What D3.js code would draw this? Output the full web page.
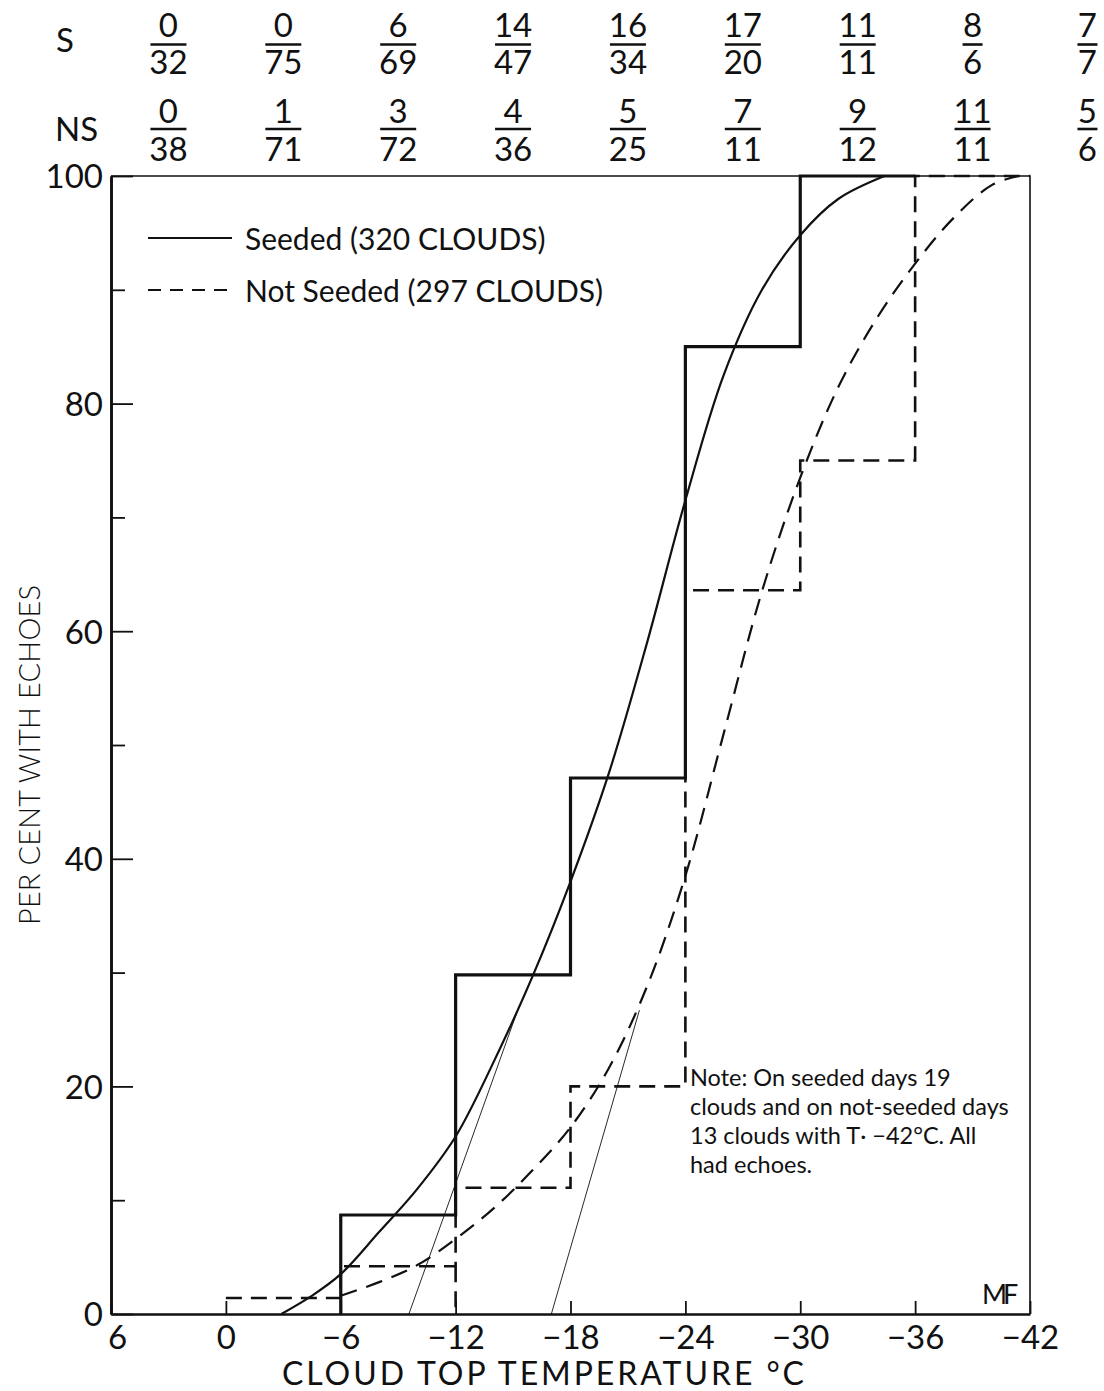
<!DOCTYPE html>
<html><head><meta charset="utf-8">
<script src="https://cdn.jsdelivr.net/npm/d3@7"></script>
<style>
body{margin:0;background:#fff}
text{font-family:Lato,'Open Sans',sans-serif;fill:#111}
</style>
</head><body>
<svg id="c" width="1104" height="1391"></svg>
<script>
// ---------- data ----------
const tempTicks = [6, 0, -6, -12, -18, -24, -30, -36, -42];
const tempTickLabels = ["6", "0", "−6", "−12", "−18", "−24", "−30", "−36", "−42"];
const pctMajor = [0, 20, 40, 60, 80, 100];
const pctMinor = [10, 30, 50, 70, 90];

const columnTemps = [3, -3, -9, -15, -21, -27, -33, -39, -45];
const seededEcho = ["0", "0", "6", "14", "16", "17", "11", "8", "7"];
const seededTotal = ["32", "75", "69", "47", "34", "20", "11", "6", "7"];
const notSeededEcho = ["0", "1", "3", "4", "5", "7", "9", "11", "5"];
const notSeededTotal = ["38", "71", "72", "36", "25", "11", "12", "11", "6"];

// step histograms (temperature, percent) — drawn with step-after
const seededStepT = [-6, -6, -12, -18, -24, -30, -36];
const seededStepPct = [0, 8.7, 29.8, 47.1, 85, 100, 100];
const notSeededStepT = [0, -6, -12, -18, -24, -30, -36, -42];
const notSeededStepPct = [1.4, 4.2, 11.1, 20, 63.6, 75, 100, 100];

// fitted smooth curves
const seededCurveT = [-2.9, -4.4, -6, -8, -10, -12, -14, -16, -18, -20, -22, -24, -26, -28, -30, -32, -34.4];
const seededCurvePct = [0, 1.5, 3.5, 7.2, 11.0, 15.6, 22.2, 29.6, 38, 47.5, 59, 71.5, 82.5, 90, 94.8, 98, 100];
const notSeededCurveT = [-6, -8, -10, -12, -14, -16, -18, -20, -22, -24, -26, -28, -30, -32, -34, -36, -38, -40, -41.4];
const notSeededCurvePct = [1.6, 2.8, 4.3, 6.6, 9.3, 12.6, 16.4, 21.6, 28.8, 38.5, 51, 63.5, 73.5, 81.5, 87.5, 92.3, 96.3, 99.2, 100];

// thin tangent lines
const tangentAT = [-9.56, -15.2];
const tangentAPct = [0, 26.5];
const tangentBT = [-17.0, -21.6];
const tangentBPct = [0, 26.7];

const seriesNames = ["Seeded (320 CLOUDS)", "Not Seeded (297 CLOUDS)"];
const noteLines = ["Note: On seeded days 19", "clouds and on not-seeded days", "13 clouds with T·  −42°C. All", "had echoes."];

// ---------- drawing ----------
const svg = d3.select("#c");
const x = d3.scaleLinear().domain([6, -42]).range([111, 1030]);
const y = d3.scaleLinear().domain([0, 100]).range([1314, 176]);
const ink = "#111";

const zip = (a, b) => a.map((v, i) => [v, b[i]]);
const line = d3.line().x(d => x(d[0])).y(d => y(d[1]));

// frame top & right (thin)
svg.append("path").attr("d", line([[6, 100], [-42, 100], [-42, 0]]))
  .attr("fill", "none").attr("stroke", ink).attr("stroke-width", 1.6);

// axes
const gLeft = svg.append("g").attr("transform", `translate(${x(6)},0)`)
  .call(d3.axisLeft(y).tickValues(pctMajor).tickSizeInner(-22).tickSizeOuter(0).tickPadding(30).tickFormat(d => d));
svg.append("g").attr("transform", `translate(${x(6)},0)`)
  .call(d3.axisLeft(y).tickValues(pctMinor).tickSizeInner(-14).tickSizeOuter(0).tickFormat(""));
const gBottom = svg.append("g").attr("transform", `translate(0,${y(0)})`)
  .call(d3.axisBottom(x).tickValues(tempTicks).tickSizeInner(-13).tickSizeOuter(0).tickPadding(12)
    .tickFormat((d, i) => tempTickLabels[i]));
svg.selectAll(".domain").attr("stroke", ink).attr("stroke-width", 2.6);
svg.selectAll(".tick line").attr("stroke", ink).attr("stroke-width", 1.8);
gLeft.selectAll("text").attr("font-size", 33).attr("fill", ink).attr("x", -8).attr("dy", "0.36em").attr("font-family", "Lato");
gBottom.selectAll("text").attr("font-size", 33).attr("fill", ink).attr("font-family", "Lato")
  .attr("dx", d => d === 6 ? 6 : 0);

// axis titles
svg.append("text").attr("x", 543).attr("y", 1385).attr("text-anchor", "middle")
  .attr("font-size", 32).attr("font-weight", 400).attr("textLength", 522)
  .text("CLOUD TOP TEMPERATURE °C");
svg.append("text").attr("transform", "translate(40,755) rotate(-90)").attr("text-anchor", "middle")
  .attr("font-size", 29).attr("font-weight", 300).attr("textLength", 340)
  .text("PER CENT WITH ECHOES");

// header fractions
function fractionRow(nums, dens, numBase, barY, denBase, label, labelX, labelBase) {
  svg.append("text").attr("x", labelX).attr("y", labelBase).attr("font-size", 33).text(label);
  columnTemps.forEach((t, i) => {
    const cx = x(t);
    svg.append("text").attr("x", cx).attr("y", numBase).attr("text-anchor", "middle").attr("font-size", 33).text(nums[i]);
    svg.append("text").attr("x", cx).attr("y", denBase).attr("text-anchor", "middle").attr("font-size", 33).text(dens[i]);
    const w = Math.max(nums[i].length, dens[i].length) === 1 ? 20 : 36;
    svg.append("line").attr("x1", cx - w / 2).attr("x2", cx + w / 2).attr("y1", barY).attr("y2", barY)
      .attr("stroke", ink).attr("stroke-width", 2.6);
  });
}
fractionRow(seededEcho, seededTotal, 37, 44.5, 74, "S", 56, 52);
fractionRow(notSeededEcho, notSeededTotal, 123, 129, 161, "NS", 55, 141);

// step histograms
const step = d3.line().x(d => x(d[0])).y(d => y(d[1])).curve(d3.curveStepAfter);
svg.append("path").attr("d", step(zip(notSeededStepT, notSeededStepPct)))
  .attr("fill", "none").attr("stroke", ink).attr("stroke-width", 2.6).attr("stroke-dasharray", "16,9");
svg.append("path").attr("d", line([[-12, notSeededStepPct[1]], [-12, 0]]))
  .attr("fill", "none").attr("stroke", ink).attr("stroke-width", 2.6).attr("stroke-dasharray", "16,9");
svg.append("path").attr("d", step(zip(seededStepT, seededStepPct)))
  .attr("fill", "none").attr("stroke", ink).attr("stroke-width", 3.2);

// smooth curves
const smooth = d3.line().x(d => x(d[0])).y(d => y(d[1])).curve(d3.curveCatmullRom.alpha(0.5));
svg.append("path").attr("d", smooth(zip(seededCurveT, seededCurvePct)))
  .attr("fill", "none").attr("stroke", ink).attr("stroke-width", 2.2);
svg.append("path").attr("d", smooth(zip(notSeededCurveT, notSeededCurvePct)))
  .attr("fill", "none").attr("stroke", ink).attr("stroke-width", 2.2).attr("stroke-dasharray", "17,10");

// thin tangent lines
[zip(tangentAT, tangentAPct), zip(tangentBT, tangentBPct)].forEach(p =>
  svg.append("path").attr("d", line(p)).attr("fill", "none").attr("stroke", ink).attr("stroke-width", 0.9));

// legend
const lg = [[238, null], [290, "13,9"]];
lg.forEach((l, i) => {
  svg.append("line").attr("x1", 148).attr("x2", 232).attr("y1", l[0]).attr("y2", l[0])
    .attr("stroke", ink).attr("stroke-width", 2.2).attr("stroke-dasharray", l[1]);
  svg.append("text").attr("x", 245).attr("y", l[0] + 12).attr("font-size", 30).text(seriesNames[i]);
});

// note
const noteBase = [1086, 1115, 1144, 1173];
noteLines.forEach((s, i) => svg.append("text").attr("x", 690).attr("y", noteBase[i]).attr("font-size", 23.5).text(s));

// monogram
svg.append("text").attr("x", 982).attr("y", 1304).attr("font-size", 27).attr("letter-spacing", -4).text("MF");
</script>
</body></html>
